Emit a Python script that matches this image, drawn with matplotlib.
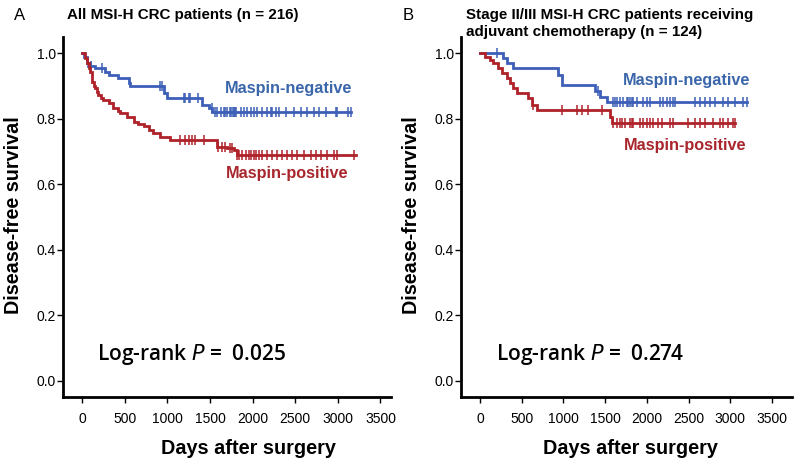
import numpy as np
import matplotlib
matplotlib.use("Agg")
import matplotlib.pyplot as plt

# ---------------- data ----------------
# Panel A: all MSI-H CRC patients
a_neg_times = [0, 20, 55, 94, 153, 270, 310, 427, 545, 565, 957, 996, 1408, 1486, 1526, 3150]
a_neg_surv = [1.0, 0.99, 0.97, 0.96, 0.955, 0.944, 0.934, 0.924, 0.909, 0.899, 0.878, 0.863, 0.843, 0.833, 0.822, 0.822]
a_neg_cens = [70, 110, 235, 918, 937, 1190, 1210, 1250, 1270, 1365, 1525, 1565, 1584, 1624, 1663, 1680, 1702,
              1730, 1750, 1765, 1780, 1795, 1810, 1859, 1898, 1937, 1976, 2016, 2055, 2114, 2173, 2212,
              2231, 2271, 2310, 2388, 2486, 2565, 2643, 2722, 2780, 2859, 2976, 2996, 3114, 3150]

a_pos_times = [0, 30, 55, 80, 94, 114, 135, 153, 175, 192, 220, 251, 310, 368, 420, 447, 525, 604, 660, 722,
               780, 830, 918, 1035, 1584, 1700, 1780, 1820, 3210]
a_pos_surv = [1.0, 0.985, 0.97, 0.955, 0.944, 0.914, 0.90, 0.893, 0.882, 0.873, 0.865, 0.858, 0.848, 0.833,
              0.825, 0.817, 0.807, 0.792, 0.785, 0.777, 0.767, 0.757, 0.746, 0.736, 0.715, 0.710, 0.705, 0.690, 0.690]
a_pos_cens = [1153, 1212, 1251, 1290, 1329, 1427, 1600, 1640, 1680, 1741, 1760, 1820, 1840, 1878, 1918, 1957,
              1976, 2016, 2035, 2075, 2114, 2173, 2231, 2290, 2349, 2408, 2467, 2526, 2604, 2682, 2741,
              2800, 2878, 2957, 2996, 3192]

# Panel B: stage II/III receiving adjuvant chemotherapy
b_neg_times = [0, 280, 320, 400, 939, 979, 1378, 1438, 1518, 3200]
b_neg_surv = [1.0, 0.985, 0.97, 0.955, 0.935, 0.904, 0.884, 0.868, 0.853, 0.853]
b_neg_cens = [200, 1418, 1598, 1618, 1638, 1678, 1718, 1758, 1778, 1798, 1818, 1838, 1878, 1958, 1998, 2038,
              2158, 2198, 2238, 2277, 2317, 2337, 2577, 2637, 2697, 2757, 2817, 2917, 2977, 3057, 3157, 3200]

b_pos_times = [0, 60, 120, 160, 220, 260, 320, 360, 400, 440, 580, 620, 680, 1518, 1558, 1578, 3060]
b_pos_surv = [1.0, 0.99, 0.98, 0.97, 0.955, 0.94, 0.924, 0.909, 0.894, 0.878, 0.863, 0.843, 0.827,
              0.827, 0.807, 0.787, 0.787]
b_pos_cens = [640, 979, 1159, 1219, 1299, 1458, 1598, 1638, 1678, 1698, 1738, 1798, 1818, 1838, 1918, 1958,
              1998, 2038, 2078, 2138, 2178, 2277, 2317, 2497, 2577, 2637, 2697, 2797, 2877, 2917, 2977,
              3037, 3060]

x_ticks = [0, 500, 1000, 1500, 2000, 2500, 3000, 3500]
y_ticks = [0.0, 0.2, 0.4, 0.6, 0.8, 1.0]

titles = ["All MSI-H CRC patients (n = 216)",
          "Stage II/III MSI-H CRC patients receiving\nadjuvant chemotherapy (n = 124)"]
panel_letters = ["A", "B"]
pvalues = ["0.025", "0.274"]

BLUE = "#3D5FB8"
RED = "#B0222A"
BLUE_T = "#3A66AA"
RED_T = "#A8262C"

W, H = 800, 465
fig = plt.figure(figsize=(W / 100, H / 100), dpi=100)


def px_axes(x0, y0, x1, y1):
    return fig.add_axes([x0 / W, 1 - y1 / H, (x1 - x0) / W, (y1 - y0) / H])


def km(ax, times, surv, cens, color):
    ax.step(times, surv, where="post", color=color, lw=2.0, solid_joinstyle="miter")
    t = np.asarray(times)
    s = np.asarray(surv)
    idx = np.searchsorted(t, np.asarray(cens), side="right") - 1
    ax.plot(cens, s[idx], ls="none", marker="|", ms=7, mew=1.1, color=color)


panels = [
    dict(box=(63, 37, 391, 397), xlim=(-224, 3624),
         neg=(a_neg_times, a_neg_surv, a_neg_cens), pos=(a_pos_times, a_pos_surv, a_pos_cens),
         neg_lbl=(2420, 0.893), pos_lbl=(2410, 0.632), p_xy=(176, 0.08),
         letter_x=14, title_x=67, ylab_x=14, xlab_x=248),
    dict(box=(461, 37, 792, 397), xlim=(-228, 3740),
         neg=(b_neg_times, b_neg_surv, b_neg_cens), pos=(b_pos_times, b_pos_surv, b_pos_cens),
         neg_lbl=(2481, 0.917), pos_lbl=(2457, 0.72), p_xy=(190, 0.08),
         letter_x=403, title_x=466, ylab_x=411, xlab_x=630),
]

for i, p in enumerate(panels):
    ax = px_axes(*p["box"])
    ax.set_xlim(*p["xlim"])
    ax.set_ylim(-0.049, 1.05)
    for sp in ("top", "right"):
        ax.spines[sp].set_visible(False)
    for sp in ("left", "bottom"):
        ax.spines[sp].set_linewidth(2.0)
    ax.set_xticks(x_ticks)
    ax.set_yticks(y_ticks)
    ax.set_xticklabels([str(v) for v in x_ticks], fontsize=10, family="Liberation Sans")
    ax.set_yticklabels([f"{v:.1f}" for v in y_ticks], fontsize=10, family="Liberation Sans")
    ax.tick_params(direction="out", length=4, width=1.0, pad=7)
    ax.tick_params(axis="y", pad=1)

    km(ax, *p["neg"], BLUE)
    km(ax, *p["pos"], RED)

    ax.text(*p["neg_lbl"], "Maspin-negative", color=BLUE_T, fontsize=11.7, fontweight="bold",
            family="Liberation Sans", ha="center", va="center")
    ax.text(*p["pos_lbl"], "Maspin-positive", color=RED_T, fontsize=11.7, fontweight="bold",
            family="Liberation Sans", ha="center", va="center")
    ax.text(p["p_xy"][0], p["p_xy"][1], "Log-rank $\\mathit{P}$ =  " + pvalues[i],
            fontsize=15, family="Open Sans", fontweight="semibold", ha="left", va="center")

    fig.text(p["letter_x"] / W, 1 - 16 / H, panel_letters[i], fontsize=12,
             family="Liberation Sans", ha="left", va="center")
    fig.text(p["title_x"] / W, 1 - 8 / H, titles[i], fontsize=10.9, fontweight="bold",
             family="Liberation Sans", ha="left", va="top", linespacing=1.3)
    fig.text(p["ylab_x"] / W, 1 - 215 / H, "Disease-free survival", fontsize=14.2, fontweight="bold",
             family="Liberation Sans", rotation=90, ha="center", va="center")
    fig.text(p["xlab_x"] / W, 1 - 448 / H, "Days after surgery", fontsize=14.3, fontweight="bold",
             family="Liberation Sans", ha="center", va="center")

fig.savefig("out.png", dpi=100)
